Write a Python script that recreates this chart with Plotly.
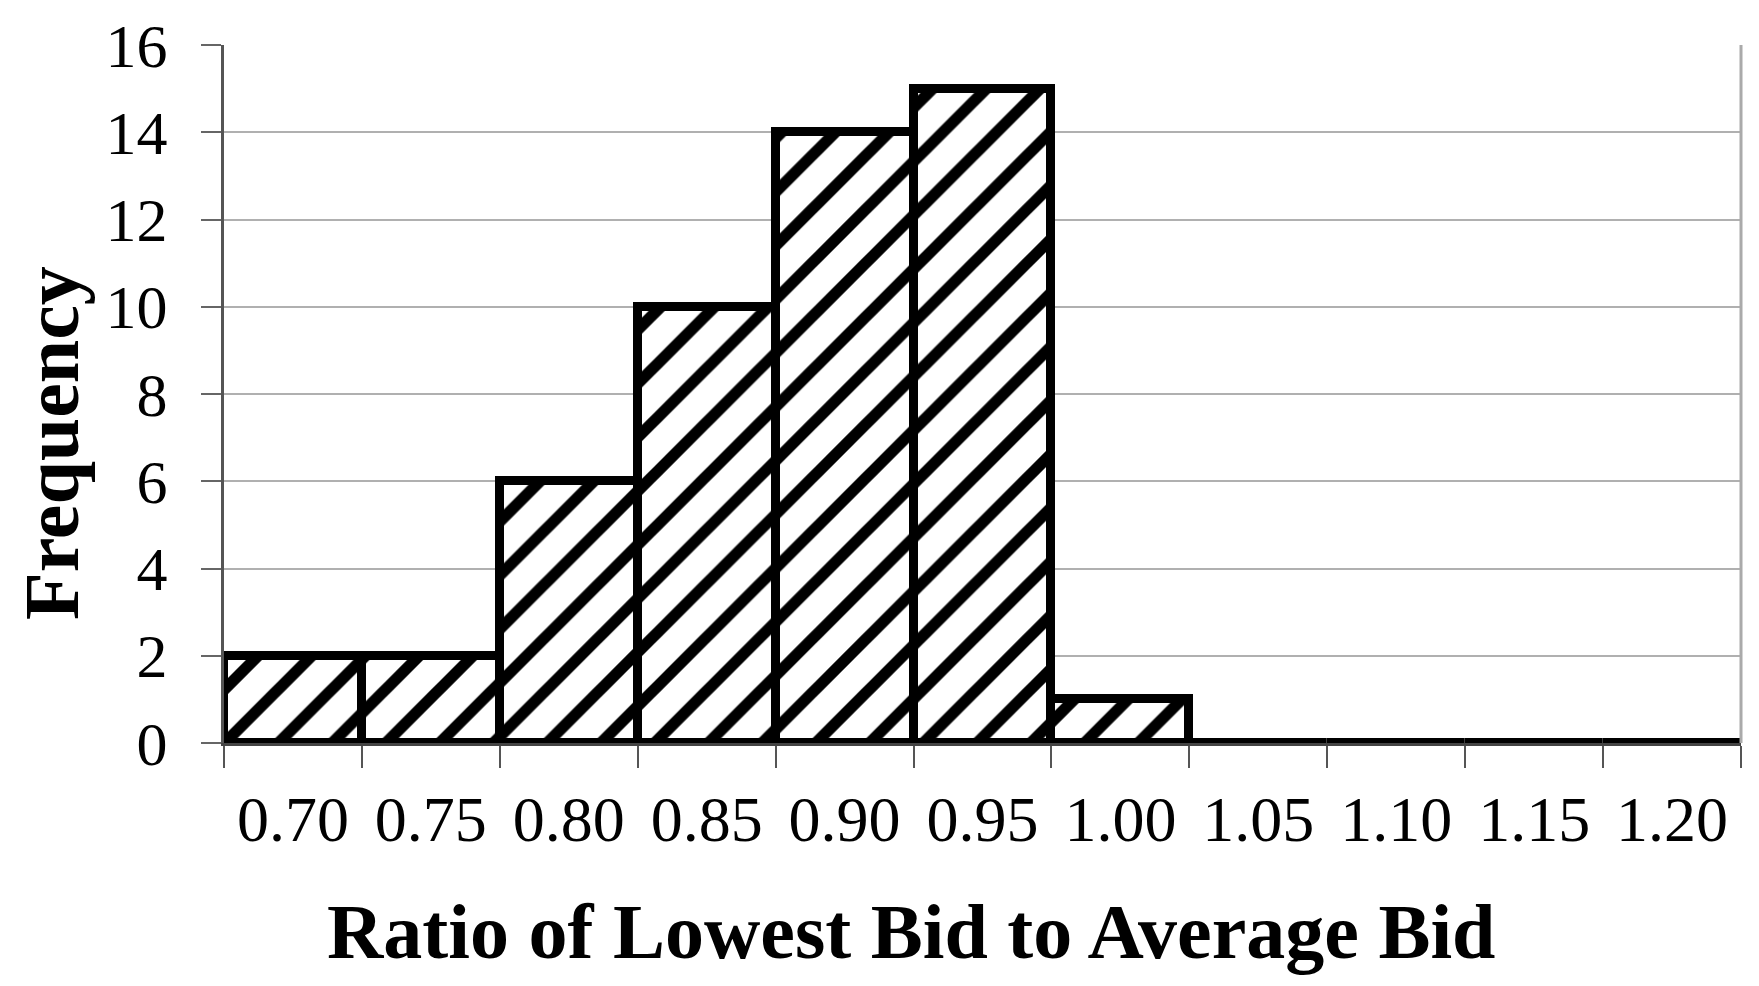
import plotly.graph_objects as go

# bins of the ratio (lowest bid / average bid) and their counts
bins = ["0.70", "0.75", "0.80", "0.85", "0.90", "0.95", "1.00",
        "1.05", "1.10", "1.15", "1.20"]
counts = [2, 2, 6, 10, 14, 15, 1, 0, 0, 0, 0]
y_ticks = [0, 2, 4, 6, 8, 10, 12, 14, 16]

serif = "Liberation Serif, Times New Roman, serif"

fig = go.Figure()
fig.add_trace(go.Bar(
    x=bins,
    y=counts,
    marker=dict(
        color="white",
        line=dict(color="black", width=9),
        pattern=dict(shape="/", fgcolor="black", bgcolor="white",
                     fgopacity=1, size=38, solidity=0.3),
    ),
    showlegend=False,
))

# page body adds 8px, so margins are shifted to compensate
fig.update_layout(
    width=1759, height=986,
    margin=dict(l=216, r=26, t=37, b=251),
    plot_bgcolor="white",
    paper_bgcolor="white",
    bargap=0,
    font=dict(family=serif, color="black"),
)

fig.update_xaxes(
    type="category",
    tickson="boundaries",
    ticks="outside", ticklen=22, tickwidth=2, tickcolor="#555",
    tickfont=dict(size=64),
    ticklabelstandoff=18,
    showline=True, linecolor="#444", linewidth=3,
    showgrid=False,
    automargin=False,
)
fig.update_yaxes(
    range=[0, 16],
    tickvals=y_ticks,
    ticks="outside", ticklen=20, tickwidth=2, tickcolor="#666",
    tickfont=dict(size=62),
    ticklabelstandoff=21,
    showline=True, linecolor="#555", linewidth=3,
    gridcolor="#b0b0b0", gridwidth=2,
    zeroline=False,
    automargin=False,
)

# right-hand frame line
fig.add_shape(type="line", xref="paper", yref="paper", x0=1, x1=1, y0=0, y1=1,
              line=dict(color="#aaaaaa", width=3))

fig.add_annotation(text="<b>Ratio of Lowest Bid to Average Bid</b>",
                   xref="paper", yref="paper", x=(903 - 216) / 1517, y=-0.27,
                   xanchor="center", yanchor="middle", showarrow=False,
                   font=dict(size=78, family=serif))
fig.add_annotation(text="<b>Frequency</b>",
                   xref="paper", yref="paper", x=(43 - 216) / 1517, y=(735 - 435) / 698,
                   xanchor="center", yanchor="middle", showarrow=False,
                   textangle=-90, font=dict(size=78, family=serif))

fig.write_html("out.html")
